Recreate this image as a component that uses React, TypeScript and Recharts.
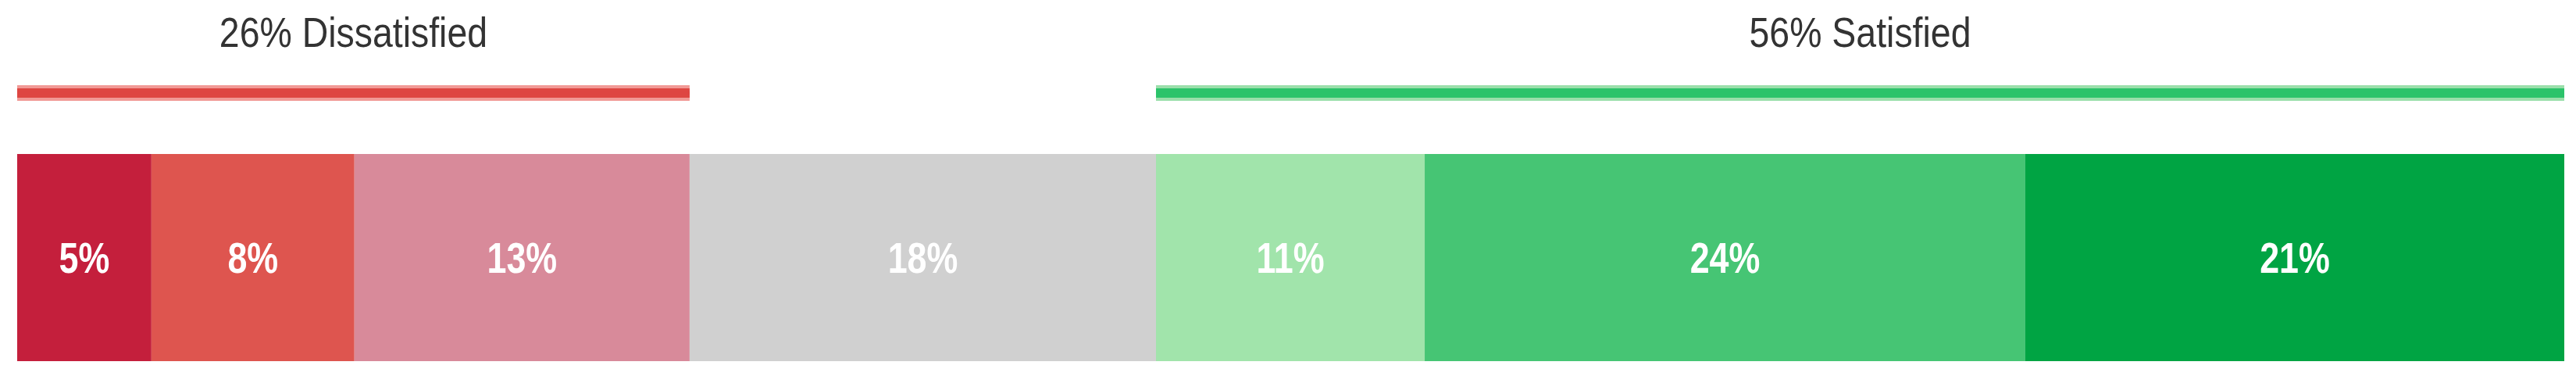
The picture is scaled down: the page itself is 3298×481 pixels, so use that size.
import { BarChart, Bar, XAxis, YAxis, LabelList } from 'recharts';

// satisfaction scale (share of respondents, %)
const segments = [
  'Very dissatisfied',
  'Dissatisfied',
  'Somewhat dissatisfied',
  'Neutral',
  'Somewhat satisfied',
  'Satisfied',
  'Very satisfied'
];
const shares = [5.27, 7.97, 13.16, 18.31, 10.55, 23.58, 21.16];
const shareLabels = ['5%', '8%', '13%', '18%', '11%', '24%', '21%'];
const segmentColors = ['#C41F3C', '#DE554F', '#D88A9A', '#D0D0D0', '#A1E4AB', '#46C574', '#00A443'];

// summary groups drawn as the thin lines over the bar
const groupKeys = ['dissatisfied', 'neutral', 'satisfied'];
const groupMembers = [[0, 1, 2], [3], [4, 5, 6]];
const groupTitles = ['26% Dissatisfied', '', '56% Satisfied'];
const groupColors = ['#DE4742', 'none', '#2CC36A'];
const groupFringe = ['#F19A96', 'none', '#9BDFAB'];

const WIDTH = 3282;
const MARGIN = { left: 14, right: 7 };
const FONT = '"Liberation Sans", Arial, sans-serif';

const mainRow: Record<string, number | string> = { row: 'all' };
segments.forEach((_, i) => {
  mainRow[`s${i}`] = shares[i];
});

const groupRow: Record<string, number | string> = { row: 'groups' };
groupKeys.forEach((k, i) => {
  groupRow[k] = groupMembers[i].reduce((sum, j) => sum + shares[j], 0);
});

function GroupLine(props: any) {
  const { x, y, width, height } = props;
  const i = props.groupIndex;
  if (groupColors[i] === 'none' || !width) return null;
  return (
    <g>
      <rect x={x} y={y} width={width} height={height} fill={groupFringe[i]} />
      <rect x={x} y={y + 4} width={width} height={height - 8} fill={groupColors[i]} />
      <rect x={x} y={y + 8} width={width} height={4} fill={groupColors[i]} fillOpacity={0.85} />
    </g>
  );
}

function GroupTitle(props: any) {
  const { x, y, width, text } = props;
  if (!text) return null;
  const cx = x + width / 2;
  const cy = y - 68;
  return (
    <text
      transform={`translate(${cx},${cy}) scale(0.86,1)`}
      textAnchor="middle"
      dominantBaseline="central"
      fontFamily={FONT}
      fontSize={54}
      fill="#333333"
    >
      {text}
    </text>
  );
}

function ShareLabel(props: any) {
  const { x, y, width, height, text } = props;
  const cx = x + width / 2;
  const cy = y + height / 2;
  return (
    <text
      transform={`translate(${cx},${cy}) scale(0.8,1)`}
      textAnchor="middle"
      dominantBaseline="central"
      fontFamily={FONT}
      fontWeight="bold"
      fontSize={56}
      fill="#ffffff"
    >
      {text}
    </text>
  );
}

export default function App() {
  return (
    <div style={{ width: WIDTH }}>
      <BarChart
        width={WIDTH}
        height={180}
        data={[groupRow]}
        layout="vertical"
        margin={{ top: 42, right: MARGIN.right, bottom: 0, left: MARGIN.left }}
      >
        <XAxis type="number" domain={[0, 100]} hide />
        <YAxis type="category" dataKey="row" hide />
        {groupKeys.map((k, i) => (
          <Bar
            key={k}
            dataKey={k}
            stackId="g"
            barSize={20}
            isAnimationActive={false}
            shape={(p: any) => <GroupLine {...p} groupIndex={i} />}
          >
            <LabelList
              dataKey={k}
              content={(p: any) => <GroupTitle {...p} text={groupTitles[i]} />}
            />
          </Bar>
        ))}
      </BarChart>
      <BarChart
        width={WIDTH}
        height={282}
        data={[mainRow]}
        layout="vertical"
        barCategoryGap={0}
        margin={{ top: 9, right: MARGIN.right, bottom: 8, left: MARGIN.left }}
      >
        <XAxis type="number" domain={[0, 100]} hide />
        <YAxis type="category" dataKey="row" hide />
        {segments.map((name, i) => (
          <Bar
            key={name}
            name={name}
            dataKey={`s${i}`}
            stackId="a"
            fill={segmentColors[i]}
            isAnimationActive={false}
          >
            <LabelList
              dataKey={`s${i}`}
              content={(p: any) => <ShareLabel {...p} text={shareLabels[i]} />}
            />
          </Bar>
        ))}
      </BarChart>
    </div>
  );
}
